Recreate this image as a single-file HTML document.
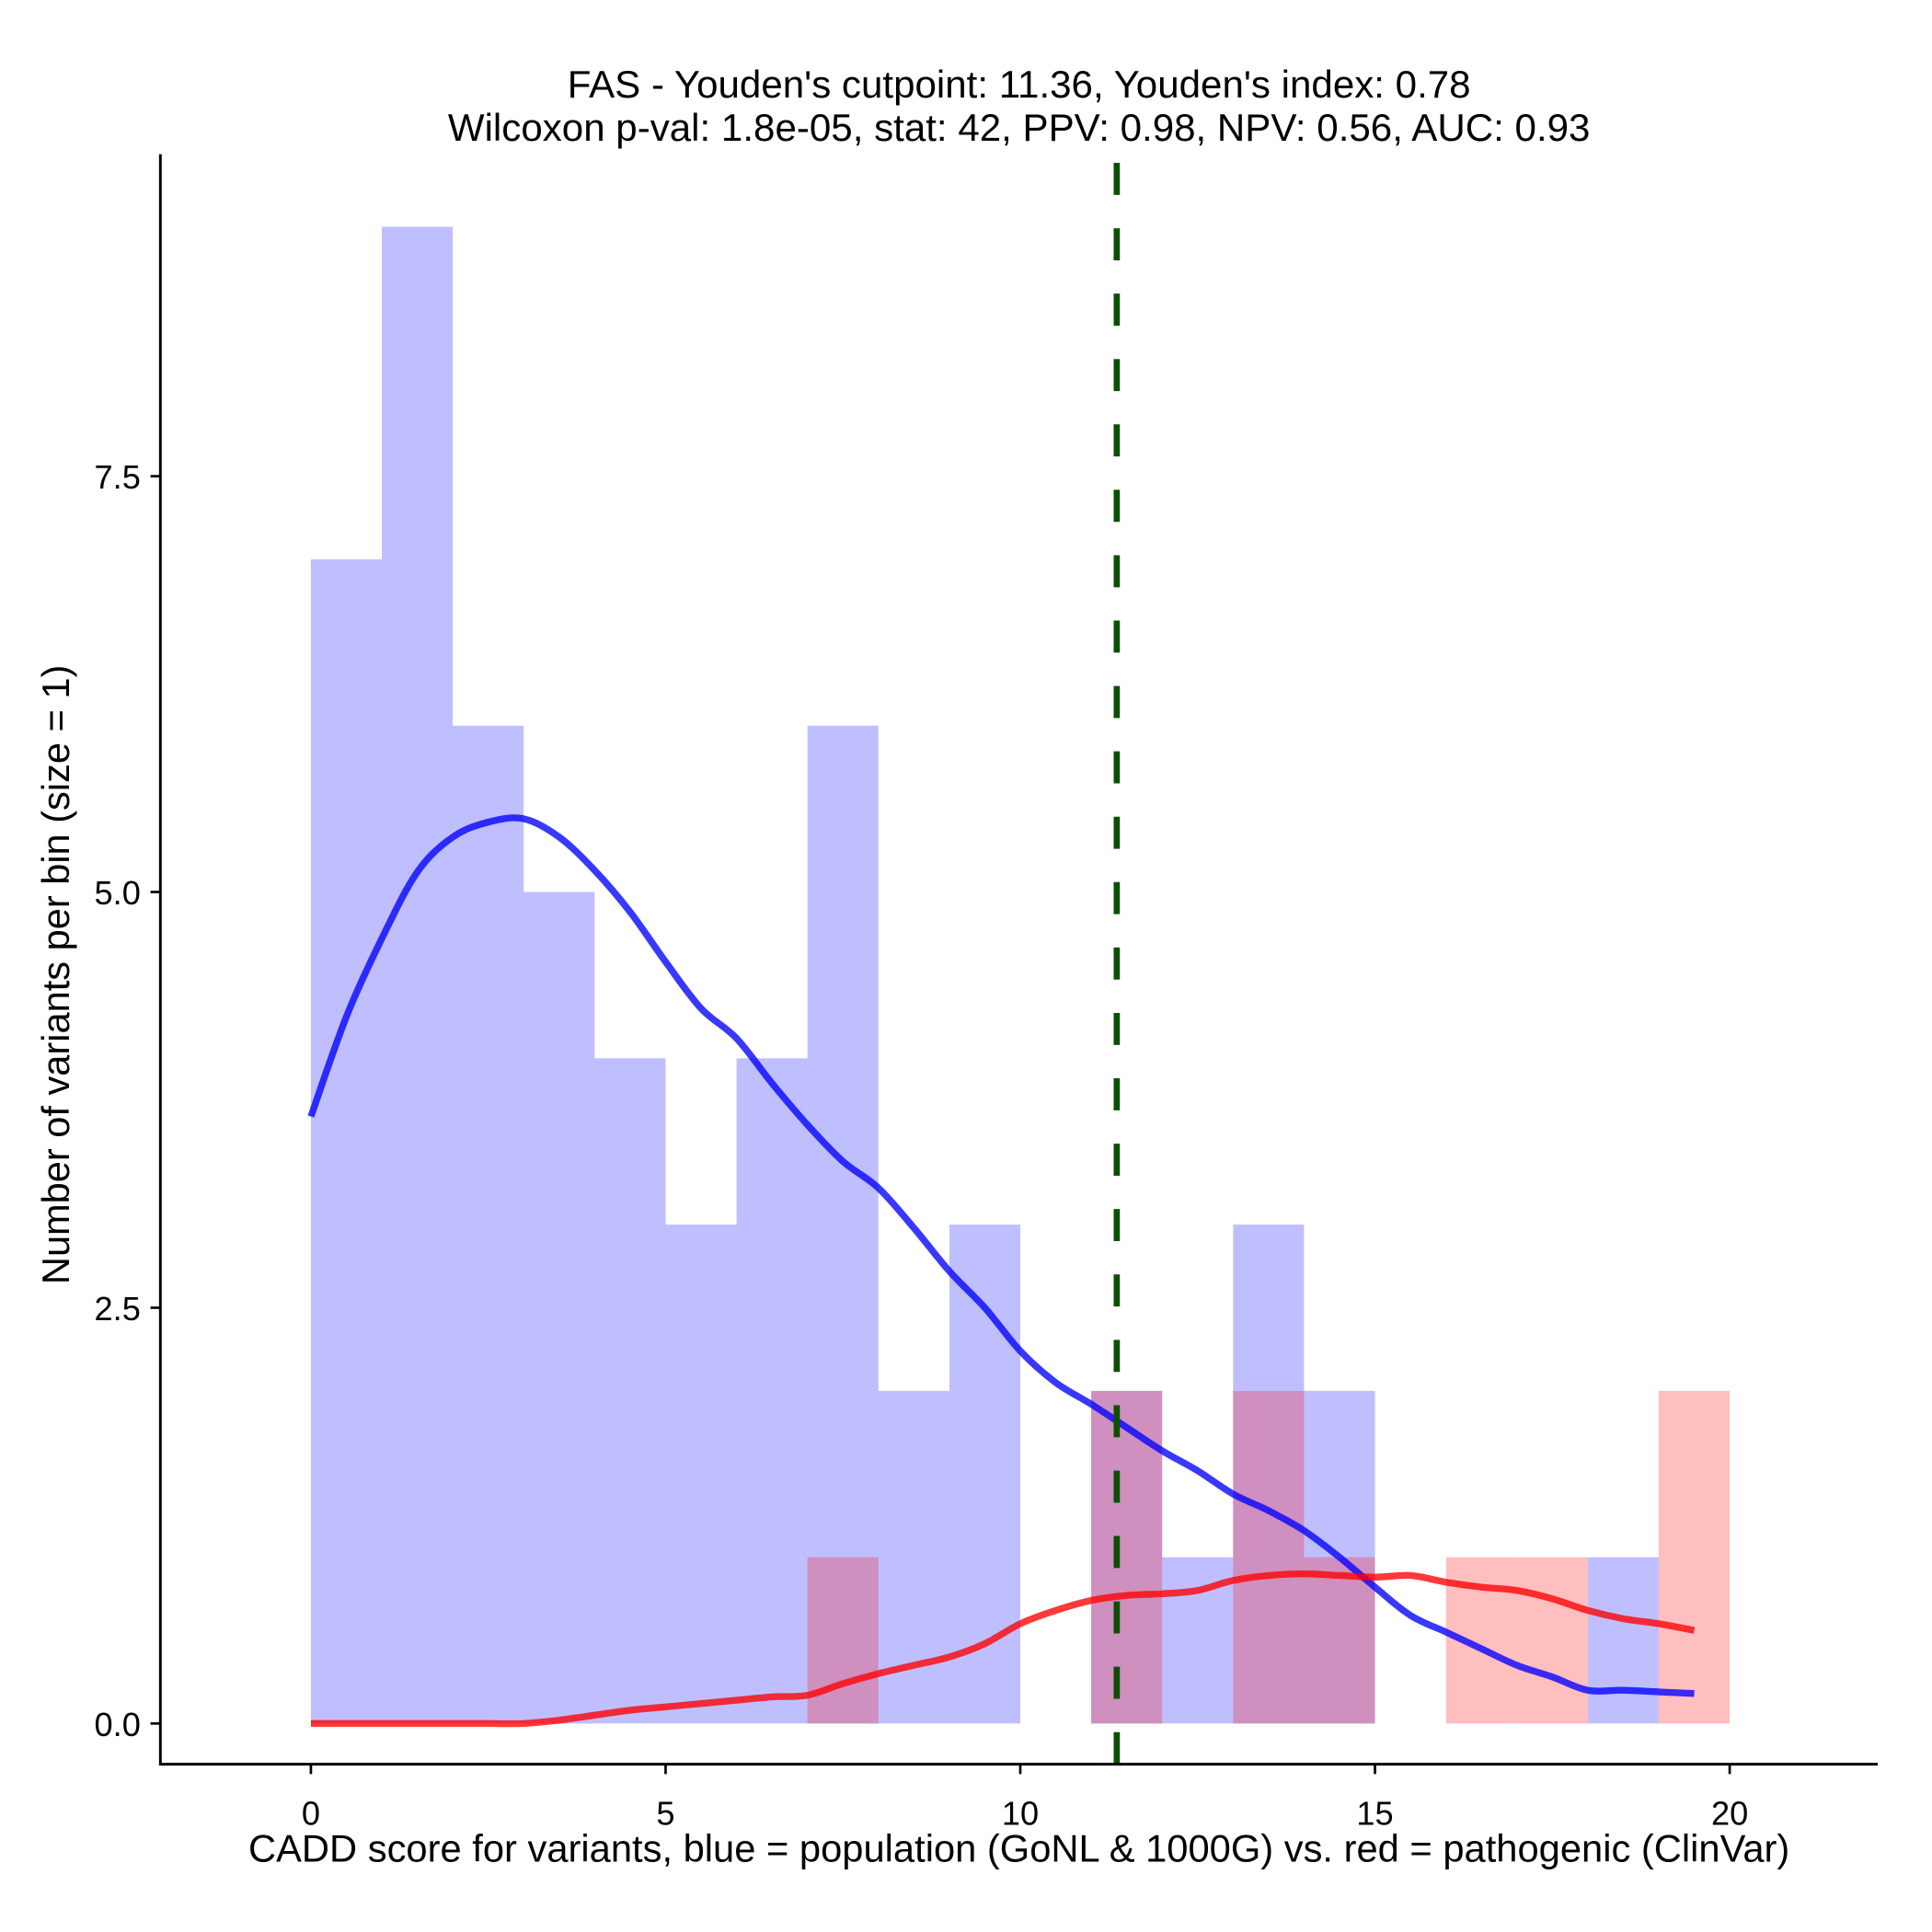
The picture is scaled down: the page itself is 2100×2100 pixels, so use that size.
<!DOCTYPE html>
<html><head><meta charset="utf-8">
<style>
html,body{margin:0;padding:0;background:#fff;}
svg{display:block;}
text{font-family:"Liberation Sans",Arial,sans-serif;fill:#000;}
</style></head>
<body>
<svg id="chart" width="2100" height="2100" viewBox="0 0 1566 1566" xmlns="http://www.w3.org/2000/svg">
<g id="bars"></g>
<g id="curves"></g>
<g id="axes"></g>
<text x="826" y="79" font-size="31.4" text-anchor="middle">FAS - Youden's cutpoint: 11.36, Youden's index: 0.78</text>
<text x="826" y="114" font-size="31.4" text-anchor="middle">Wilcoxon p-val: 1.8e-05, stat: 42, PPV: 0.98, NPV: 0.56, AUC: 0.93</text>
<text x="826" y="1509" font-size="31.1" text-anchor="middle">CADD score for variants, blue = population (GoNL &amp; 1000G) vs. red = pathogenic (ClinVar)</text>
<text transform="translate(56,790) rotate(-90)" font-size="31" text-anchor="middle">Number of variants per bin (size = 1)</text>
</svg>
<script>
const binStarts = [0,1,2,3,4,5,6,7,8,9,10,11,12,13,14,15,16,17,18,19];
const blueCounts = [7,9,6,5,4,3,4,6,2,3,0,2,1,3,2,0,0,0,1,0];
const redCounts  = [0,0,0,0,0,0,0,1,0,0,0,2,0,2,1,0,1,1,0,2];
const curveX = [0,0.5,1,1.5,2,2.5,3,3.5,4,4.5,5,5.5,6,6.5,7,7.5,8,8.5,9,9.5,10,10.5,11,11.5,12,12.5,13,13.5,14,14.5,15,15.5,16,16.5,17,17.5,18,18.5,19,19.5];
const blueDensity = [3.65,4.25,4.72,5.12,5.33,5.42,5.44,5.33,5.13,4.88,4.58,4.3,4.12,3.85,3.6,3.38,3.22,2.98,2.72,2.5,2.24,2.05,1.92,1.78,1.64,1.52,1.38,1.28,1.16,1.0,0.82,0.65,0.55,0.45,0.35,0.28,0.2,0.2,0.19,0.18];
const redDensity = [0,0,0,0,0,0,0,0.02,0.05,0.08,0.1,0.12,0.14,0.16,0.17,0.24,0.3,0.35,0.4,0.48,0.6,0.68,0.74,0.77,0.78,0.8,0.86,0.89,0.9,0.89,0.88,0.89,0.85,0.82,0.8,0.75,0.68,0.63,0.6,0.56];
const xTicks = [0,5,10,15,20];
const yTicks = [0,2.5,5,7.5];
const yTickLabels = ["0.0","2.5","5.0","7.5"];
const cutpoint = 11.36;

const NS = "http://www.w3.org/2000/svg";
const sx = v => 252 + v * 57.5;
const sy = v => 1397 - v * 134.8;
function mk(tag, attrs, parent){
  const e = document.createElementNS(NS, tag);
  for (const k in attrs) e.setAttribute(k, attrs[k]);
  parent.appendChild(e); return e;
}
const bars = document.getElementById('bars');
binStarts.forEach((b,i)=>{
  if (blueCounts[i] > 0){
    const r = mk('rect',{x:sx(b),y:sy(blueCounts[i]),width:sx(b+1)-sx(b),height:sy(0)-sy(blueCounts[i]),fill:'rgba(0,0,255,0.25)'},bars);
    
    
  }
});
binStarts.forEach((b,i)=>{
  if (redCounts[i] > 0){
    const r = mk('rect',{x:sx(b),y:sy(redCounts[i]),width:sx(b+1)-sx(b),height:sy(0)-sy(redCounts[i]),fill:'rgba(255,0,0,0.25)'},bars);
    
    
  }
});
const curves = document.getElementById('curves');
function smoothPath(xs, ys){
  const p = xs.map((x,i)=>[sx(x), sy(ys[i])]);
  let d = `M${p[0][0]},${p[0][1]}`;
  for (let i=0;i<p.length-1;i++){
    const p0=p[Math.max(0,i-1)], p1=p[i], p2=p[i+1], p3=p[Math.min(p.length-1,i+2)];
    const c1=[p1[0]+(p2[0]-p0[0])/6, p1[1]+(p2[1]-p0[1])/6];
    const c2=[p2[0]-(p3[0]-p1[0])/6, p2[1]-(p3[1]-p1[1])/6];
    d += ` C${c1[0]},${c1[1]} ${c2[0]},${c2[1]} ${p2[0]},${p2[1]}`;
  }
  return d;
}
const bl = mk('path',{d:smoothPath(curveX,blueDensity),fill:'none',stroke:'rgba(0,0,255,0.78)','stroke-width':5.5},curves);


const rl = mk('path',{d:smoothPath(curveX,redDensity),fill:'none',stroke:'rgba(255,0,0,0.78)','stroke-width':5.5},curves);


const cut = mk('line',{x1:sx(cutpoint),x2:sx(cutpoint),y1:1430,y2:125,stroke:'#0a5000','stroke-width':5,'stroke-dasharray':'26 27'},curves);



const axes = document.getElementById('axes');
const ya = mk('line',{x1:130,x2:130,y1:125,y2:1431,stroke:'#000','stroke-width':2.2},axes);


const xa = mk('line',{x1:129,x2:1522,y1:1430,y2:1430,stroke:'#000','stroke-width':2.2},axes);


xTicks.forEach(t=>{
  const tk = mk('line',{x1:sx(t),x2:sx(t),y1:1430,y2:1438,stroke:'#000','stroke-width':2},axes);
  
  
  const tl = mk('text',{x:sx(t),y:1479,'font-size':27,'text-anchor':'middle'},axes);
  tl.textContent = String(t);
  
  
});
yTicks.forEach((t,i)=>{
  const tk = mk('line',{x1:122,x2:130,y1:sy(t),y2:sy(t),stroke:'#000','stroke-width':2},axes);
  
  
  const tl = mk('text',{x:114,y:sy(t)+10,'font-size':27,'text-anchor':'end'},axes);
  tl.textContent = yTickLabels[i];
  
  
});
</script>
</body></html>
